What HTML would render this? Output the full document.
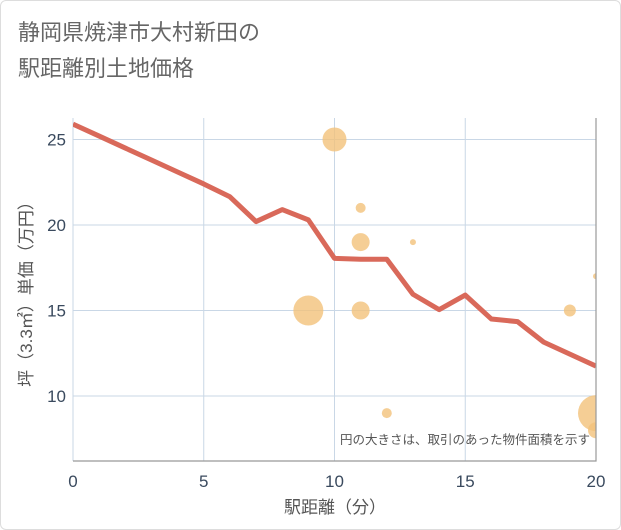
<!DOCTYPE html>
<html><head><meta charset="utf-8">
<style>
body{margin:0;background:#fff;font-family:"Liberation Sans","Noto Sans CJK JP",sans-serif;}
#wrap{position:relative;width:619px;height:528px;border:1px solid #ddd;border-radius:6px;background:#fff;}
</style></head><body>
<div id="wrap">
<svg id="svg" width="621" height="530" style="position:absolute;left:-1px;top:-1px">
<text x="18" y="40" font-size="22" fill="#666">静岡県焼津市大村新田の</text>
<text x="18" y="76" font-size="22" fill="#666">駅距離別土地価格</text>
<defs><clipPath id="clip"><rect x="73" y="118" width="523" height="343"/></clipPath></defs>
<g id="grid"></g>
<g id="bubbles" clip-path="url(#clip)"></g>
<g id="line" clip-path="url(#clip)"></g>
<g id="axes"></g>
<text x="590" y="444" font-size="12.5" fill="#555" text-anchor="end">円の大きさは、取引のあった物件面積を示す</text>
<text x="335" y="513" font-size="17" fill="#555" text-anchor="middle">駅距離（分）</text>
<text transform="translate(32,290) rotate(-90)" font-size="17" fill="#555" text-anchor="middle">坪（3.3㎡）単価（万円）</text>
</svg>
</div>
<script>
const xTicks=[0,5,10,15,20];
const yTicks=[10,15,20,25];
const lineX=[0,1,2,3,4,5,6,7,8,9,10,11,12,13,14,15,16,17,18,19,20];
const lineY=[25.9,25.2,24.5,23.8,23.1,22.4,21.65,20.2,20.9,20.3,18.05,18.0,18.0,15.95,15.05,15.9,14.5,14.35,13.15,12.45,11.75];
const bubX=[10,11,11,13,9,11,12,19,20,20,20];
const bubY=[25,21,19,19,15,15,9,15,17,9,8];
const bubR=[12,5,9,3,15,9,5,6,3,18,8];
const NS="http://www.w3.org/2000/svg";
const L=73,R=596,T=118,B=461;
const sx=v=>L+(R-L)*v/20;
const sy=v=>396-(v-10)*17.1;
function mk(tag,attrs,parent){const e=document.createElementNS(NS,tag);for(const k in attrs)e.setAttribute(k,attrs[k]);document.getElementById(parent).appendChild(e);return e;}
for(const t of xTicks){
 const g=mk('line',{x1:sx(t),x2:sx(t),y1:T,y2:B,stroke:'#c9d7e6','stroke-width':1},'grid');
 
 
 const tx=mk('text',{x:sx(t),y:487,'font-size':17,fill:'#3a4a5e','text-anchor':'middle'},'axes');
 tx.textContent=t;
 
 
}
for(const t of yTicks){
 const g=mk('line',{x1:L,x2:R,y1:sy(t),y2:sy(t),stroke:'#c9d7e6','stroke-width':1},'grid');
 
 
 const tx=mk('text',{x:66,y:sy(t)+6,'font-size':17,fill:'#3a4a5e','text-anchor':'end'},'axes');
 tx.textContent=t;
 
 
}
const ax=mk('path',{d:`M${R},${T}V${B}H${L}`,fill:'none',stroke:'#999','stroke-width':1.2},'axes');


for(let i=0;i<bubX.length;i++){
 const c=mk('circle',{cx:sx(bubX[i]),cy:sy(bubY[i]),r:bubR[i],fill:'#f2c27a','fill-opacity':0.8},'bubbles');
 
 
}
const p=mk('polyline',{points:lineX.map((x,i)=>sx(x)+','+sy(lineY[i])).join(' '),fill:'none',stroke:'#d9695a','stroke-width':5,'stroke-linejoin':'round'},'line');


</script>
</body></html>
